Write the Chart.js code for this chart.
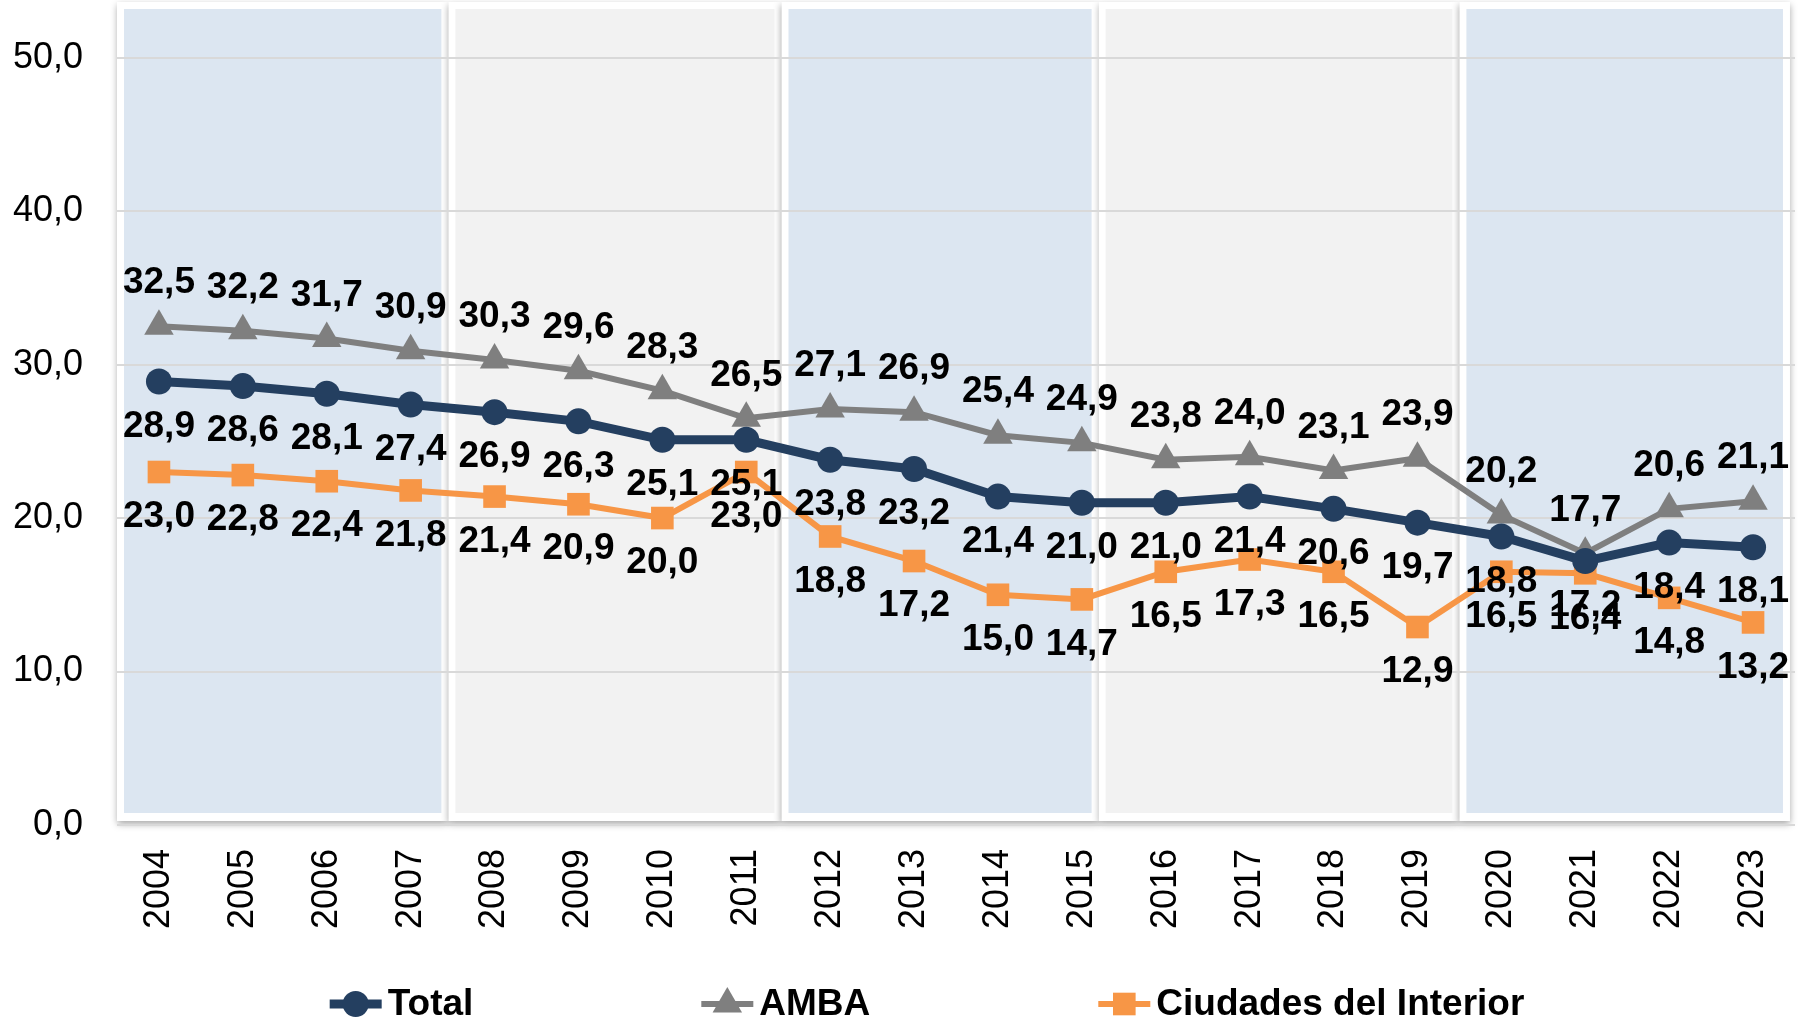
<!DOCTYPE html>
<html>
<head>
<meta charset="utf-8">
<title>Total / AMBA / Ciudades del Interior</title>
<script src="https://cdn.jsdelivr.net/npm/chart.js@4.4.0/dist/chart.umd.min.js"></script>
<style>
  html, body { margin: 0; padding: 0; background: #ffffff; }
  #wrap { width: 1806px; height: 1020px; }
</style>
</head>
<body>
<div id="wrap"><canvas id="mainChart" width="1806" height="1020"></canvas></div>
<script>
// Data
var years = ["2004", "2005", "2006", "2007", "2008", "2009", "2010", "2011", "2012", "2013",
             "2014", "2015", "2016", "2017", "2018", "2019", "2020", "2021", "2022", "2023"];
var total = [28.9, 28.6, 28.1, 27.4, 26.9, 26.3, 25.1, 25.1, 23.8, 23.2,
             21.4, 21.0, 21.0, 21.4, 20.6, 19.7, 18.8, 17.2, 18.4, 18.1];
var amba = [32.5, 32.2, 31.7, 30.9, 30.3, 29.6, 28.3, 26.5, 27.1, 26.9,
            25.4, 24.9, 23.8, 24.0, 23.1, 23.9, 20.2, 17.7, 20.6, 21.1];
var ciudades = [23.0, 22.8, 22.4, 21.8, 21.4, 20.9, 20.0, 23.0, 18.8, 17.2,
                15.0, 14.7, 16.5, 17.3, 16.5, 12.9, 16.5, 16.4, 14.8, 13.2];
var seriesNames = ["Total", "AMBA", "Ciudades del Interior"];
var yTickValues = [0, 10, 20, 30, 40, 50];

(function () {
  "use strict";

  var FONT = '"Liberation Sans", Arial, sans-serif';
  var NAVY = "#243f60";
  var GREY = "#7f7f7f";
  var ORANGE = "#f79646";

  // background panels, in category units (edges between groups of years)
  var bandEdges = [-0.5, 3.45, 7.42, 11.2, 15.5, 19.44];
  var bandFills = ["#dce6f1", "#f2f2f2", "#dce6f1", "#f2f2f2", "#dce6f1"];

  function fmt(v) {
    return v.toFixed(1).replace(".", ",");
  }

  var bandsPlugin = {
    id: "bands",
    beforeDraw: function (chart) {
      var x = chart.scales.x;
      var area = chart.chartArea;
      var ctx = chart.ctx;
      var x0 = x.getPixelForValue(0);
      var step = x.getPixelForValue(1) - x0;
      var top = area.top - 5;
      var bottom = area.bottom - 4;
      ctx.save();
      // white frames with a soft shadow
      ctx.shadowColor = "rgba(0, 0, 0, 0.35)";
      ctx.shadowBlur = 7;
      ctx.shadowOffsetY = 3;
      ctx.fillStyle = "#ffffff";
      for (var i = 0; i < bandFills.length; i++) {
        var a = x0 + bandEdges[i] * step;
        var b = x0 + bandEdges[i + 1] * step;
        ctx.fillRect(a, top, b - a, bottom - top);
      }
      ctx.shadowColor = "transparent";
      for (var j = 0; j < bandFills.length; j++) {
        var l = x0 + bandEdges[j] * step + 7;
        var r = x0 + bandEdges[j + 1] * step - 7;
        ctx.fillStyle = bandFills[j];
        ctx.fillRect(l, top + 7, r - l, bottom - top - 15);
      }
      ctx.restore();
    },
  };

  // value labels: AMBA above its points, the other two below
  var labelsPlugin = {
    id: "valueLabels",
    afterDatasetsDraw: function (chart) {
      var ctx = chart.ctx;
      ctx.save();
      ctx.font = "bold 37px " + FONT;
      ctx.fillStyle = "#000000";
      ctx.textAlign = "center";
      ctx.textBaseline = "middle";
      chart.data.datasets.forEach(function (ds, di) {
        var meta = chart.getDatasetMeta(di);
        var dy = di === 1 ? -43 : 45;
        meta.data.forEach(function (pt, i) {
          ctx.fillText(fmt(ds.data[i]), pt.x, pt.y + dy);
        });
      });
      ctx.restore();
    },
  };

  function drawMarker(ctx, style, x, y, r) {
    ctx.beginPath();
    if (style === "circle") {
      ctx.arc(x, y, r, 0, Math.PI * 2);
    } else if (style === "triangle") {
      ctx.moveTo(x, y - r);
      ctx.lineTo(x + r * Math.sin(Math.PI * 2 / 3), y - r * Math.cos(Math.PI * 2 / 3));
      ctx.lineTo(x - r * Math.sin(Math.PI * 2 / 3), y - r * Math.cos(Math.PI * 2 / 3));
      ctx.closePath();
    } else {
      var s = r * Math.SQRT1_2;
      ctx.rect(x - s, y - s, 2 * s, 2 * s);
    }
    ctx.fill();
  }

  // legend row at the bottom: line + marker, bold name
  var legendPlugin = {
    id: "bottomLegend",
    afterDraw: function (chart) {
      var ctx = chart.ctx;
      var sets = chart.data.datasets;
      var lineLen = 52, gapText = 6, gapItem = 228;
      var cy = 1004;
      ctx.save();
      ctx.font = "bold 37px " + FONT;
      var widths = sets.map(function (ds) { return ctx.measureText(ds.label).width; });
      var full = 0;
      widths.forEach(function (w) { full += lineLen + gapText + w; });
      full += gapItem * (sets.length - 1);
      var x = 927 - full / 2;
      sets.forEach(function (ds, i) {
        ctx.strokeStyle = ds.borderColor;
        ctx.lineWidth = ds.borderWidth;
        ctx.beginPath();
        ctx.moveTo(x, cy);
        ctx.lineTo(x + lineLen, cy);
        ctx.stroke();
        ctx.fillStyle = ds.pointBackgroundColor;
        drawMarker(ctx, ds.pointStyle, x + lineLen / 2, cy, ds.pointRadius);
        ctx.fillStyle = "#000000";
        ctx.textAlign = "left";
        ctx.textBaseline = "middle";
        ctx.fillText(ds.label, x + lineLen + gapText, cy + 1);
        x += lineLen + gapText + widths[i] + gapItem;
      });
      ctx.restore();
    },
  };

  function initChart() {
    var canvas = document.getElementById("mainChart");
    var ctx = canvas.getContext("2d");

    new Chart(ctx, {
      type: "line",
      data: {
        labels: years,
        datasets: [
          {
            label: seriesNames[0],
            data: total,
            borderColor: NAVY,
            borderWidth: 9,
            pointStyle: "circle",
            pointRadius: 13,
            pointBackgroundColor: NAVY,
            pointBorderColor: NAVY,
            pointBorderWidth: 0,
            tension: 0,
          },
          {
            label: seriesNames[1],
            data: amba,
            borderColor: GREY,
            borderWidth: 6,
            pointStyle: "triangle",
            pointRadius: 17,
            pointBackgroundColor: GREY,
            pointBorderColor: GREY,
            pointBorderWidth: 0,
            tension: 0,
          },
          {
            label: seriesNames[2],
            data: ciudades,
            borderColor: ORANGE,
            borderWidth: 6,
            pointStyle: "rect",
            pointRadius: 16,
            pointBackgroundColor: ORANGE,
            pointBorderColor: ORANGE,
            pointBorderWidth: 0,
            tension: 0,
          },
        ],
      },
      options: {
        responsive: false,
        animation: false,
        devicePixelRatio: 1,
        layout: { autoPadding: false, padding: { top: 7, right: 11, bottom: 85, left: 0 } },
        plugins: {
          legend: { display: false },
          tooltip: { enabled: false },
        },
        events: [],
        scales: {
          x: {
            type: "category",
            offset: true,
            grid: { display: false, drawTicks: false },
            border: { display: false },
            ticks: {
              color: "#000000",
              font: { family: FONT, size: 36 },
              minRotation: 90,
              maxRotation: 90,
              padding: 24,
              autoSkip: false,
            },
            afterFit: function (scale) {
              scale.height = 110;
              scale.paddingLeft = 0;
              scale.paddingRight = 0;
            },
          },
          y: {
            min: 0,
            max: 53.3,
            afterBuildTicks: function (scale) {
              scale.ticks = yTickValues.map(function (v) { return { value: v }; });
            },
            grid: { color: "#d9d9d9", lineWidth: 2, drawTicks: false },
            border: { display: false },
            ticks: {
              color: "#000000",
              font: { family: FONT, size: 36 },
              padding: 34,
              callback: function (v) { return fmt(v); },
            },
            afterFit: function (scale) {
              scale.width = 117;
              scale.paddingTop = 0;
              scale.paddingBottom = 0;
            },
          },
        },
      },
      plugins: [bandsPlugin, labelsPlugin, legendPlugin],
    });
  }

  if (document.readyState === "loading") {
    document.addEventListener("DOMContentLoaded", initChart);
  } else {
    initChart();
  }
})();
</script>
</body>
</html>
